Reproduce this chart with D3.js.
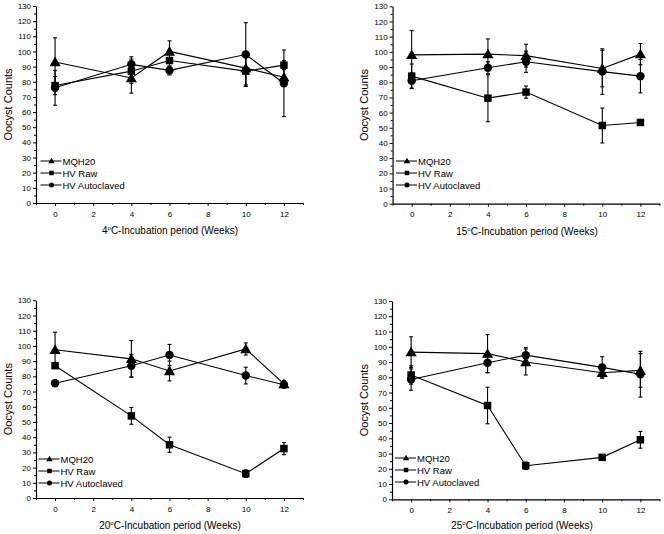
<!DOCTYPE html>
<html>
<head>
<meta charset="utf-8">
<script src="https://cdn.jsdelivr.net/npm/d3@7"></script>
<style>
  html, body { margin: 0; padding: 0; background: #fff; }
  svg { display: block; font-family: "Liberation Sans", Arial, sans-serif; }
</style>
</head>
<body>
<svg id="chart" width="664" height="534"></svg>
<script>
// ---- data ----
const weeks = [0, 4, 6, 10, 12];
const seriesNames = ["MQH20", "HV Raw", "HV Autoclaved"];
const temperatures = ["4", "15", "20", "25"];
const yTicks = [0, 10, 20, 30, 40, 50, 60, 70, 80, 90, 100, 110, 120, 130];
const xTicks = [0, 2, 4, 6, 8, 10, 12];

// 4 °C
const mqh20_4 = [93, 82.5, 100, 89, 83];
const mqh20_4_err = [16, 10, 7, 11, 6];
const raw_4 = [77.5, 87, 94, 87, 91];
const raw_4_err = [6, 8, 4, 10, 3];
const auto_4 = [76, 91.5, 87.5, 98, 79];
const auto_4_err = [11.5, 5, 3, 21, 22];

// 15 °C
const mqh20_15 = [98, 98.5, 97.5, 89, 98.5];
const mqh20_15_err = [16, 10, 7.5, 12, 7];
const raw_15 = [84, 69.5, 73.5, 51.5, 53.5];
const raw_15_err = [8, 15.5, 4, 11.5, 1];
const auto_15 = [81, 89.5, 93.5, 87, 84];
const auto_15_err = [5, 4, 7, 15, 11];

// 20 °C
const mqh20_20 = [97.5, 91.5, 83.5, 98, 75];
const mqh20_20_err = [11.5, 12, 6.5, 4, 2];
const raw_20 = [87, 54, 35, 16, 32.5];
const raw_20_err = [1, 5.5, 5, 2.5, 4];
const auto_20 = [75.5, 87, 94, 80.5, 74.5];
const auto_20_err = [1.5, 7.5, 7, 5.5, 1.5];

// 25 °C
const mqh20_25 = [96.5, 95.5, 90, 83, 84.5];
const mqh20_25_err = [10, 12.5, 8.5, 3.5, 11];
const raw_25 = [81.5, 61.5, 22, 27.5, 39];
const raw_25_err = [6, 12, 2.5, 1, 5.5];
const auto_25 = [78.5, 89.5, 94.5, 86.5, 82];
const auto_25_err = [7, 6.5, 5, 7, 15];

const panelData = [
  [[mqh20_4, mqh20_4_err], [raw_4, raw_4_err], [auto_4, auto_4_err]],
  [[mqh20_15, mqh20_15_err], [raw_15, raw_15_err], [auto_15, auto_15_err]],
  [[mqh20_20, mqh20_20_err], [raw_20, raw_20_err], [auto_20, auto_20_err]],
  [[mqh20_25, mqh20_25_err], [raw_25, raw_25_err], [auto_25, auto_25_err]]
];

// ---- layout ----
const layout = [
  { x0: 36, x1: 303, y0: 203, y1: 6, ylabX: 11.5, xlabX: 170, xlabY: 234, legX: 40.5, legY: 161 },
  { x0: 392.6, x1: 659.5, y0: 203.7, y1: 6.3, ylabX: 368, xlabX: 527, xlabY: 234.5, legX: 396, legY: 161 },
  { x0: 36, x1: 303, y0: 498, y1: 300.3, ylabX: 11.5, xlabX: 170, xlabY: 528.5, legX: 38.5, legY: 459 },
  { x0: 392, x1: 659.5, y0: 499.3, y1: 301, ylabX: 368, xlabX: 522, xlabY: 529, legX: 395, legY: 458 }
];

const symbols = [d3.symbolTriangle, d3.symbolSquare, d3.symbolCircle];
const symSize = [54, 56, 56];
const legSymSize = [18, 20, 20];

const svg = d3.select("#chart");

panelData.forEach((series, pi) => {
  const L = layout[pi];
  const x = d3.scaleLinear().domain([-1, 13]).range([L.x0, L.x1]);
  const y = d3.scaleLinear().domain([0, 130]).range([L.y0, L.y1]);
  const g = svg.append("g");

  // minor ticks
  const minorY = d3.range(5, 130, 10);
  g.append("g").attr("transform", `translate(${L.x0},0)`)
    .call(d3.axisLeft(y).tickValues(minorY).tickSize(2).tickSizeOuter(0).tickFormat(""))
    .call(a => a.select(".domain").remove());
  const minorX = d3.range(-1, 14, 2);
  g.append("g").attr("transform", `translate(0,${L.y0})`)
    .call(d3.axisBottom(x).tickValues(minorX).tickSize(2).tickSizeOuter(0).tickFormat(""))
    .call(a => a.select(".domain").remove());

  // main axes
  const yAxis = g.append("g").attr("transform", `translate(${L.x0},0)`)
    .call(d3.axisLeft(y).tickValues(yTicks).tickSize(3).tickSizeOuter(0).tickPadding(2));
  const xAxis = g.append("g").attr("transform", `translate(0,${L.y0})`)
    .call(d3.axisBottom(x).tickValues(xTicks).tickSize(3).tickSizeOuter(0).tickPadding(5));
  [yAxis, xAxis].forEach(a => {
    a.selectAll("text").attr("font-size", 8).attr("font-family", "Liberation Sans, Arial, sans-serif").attr("fill", "#000");
    a.selectAll("line").attr("stroke", "#000");
    a.select(".domain").attr("stroke", "#000").attr("stroke-width", 1.2);
  });
  g.selectAll(".tick line").attr("stroke", "#000");

  // axis labels
  g.append("text")
    .attr("transform", `translate(${L.ylabX},${(L.y0 + L.y1) / 2}) rotate(-90)`)
    .attr("text-anchor", "middle").attr("font-size", 11).text("Oocyst Counts");
  const xl = g.append("text").attr("x", L.xlabX).attr("y", L.xlabY)
    .attr("text-anchor", "middle").attr("font-size", 10);
  xl.append("tspan").text(temperatures[pi]);
  xl.append("tspan").attr("font-size", 6).attr("dy", -4).text("o");
  xl.append("tspan").attr("dy", 4).text("C-Incubation period (Weeks)");

  // series
  const line = d3.line().x(d => x(d[0])).y(d => y(d[1]));
  series.forEach(([vals, errs], si) => {
    const pts = weeks.map((w, i) => [w, vals[i], errs[i]]);
    const sg = g.append("g");
    // error bars
    pts.forEach(p => {
      const cx = x(p[0]);
      const yt = y(p[1] + p[2]), yb = y(p[1] - p[2]);
      sg.append("line").attr("x1", cx).attr("x2", cx).attr("y1", yt).attr("y2", yb)
        .attr("stroke", "#000").attr("stroke-width", 1.1);
      [yt, yb].forEach(yy => sg.append("line")
        .attr("x1", cx - 2).attr("x2", cx + 2).attr("y1", yy).attr("y2", yy)
        .attr("stroke", "#000").attr("stroke-width", 1.1));
    });
    sg.append("path").attr("d", line(pts)).attr("fill", "none")
      .attr("stroke", "#000").attr("stroke-width", 1.1);
    sg.selectAll("path.m").data(pts).enter().append("path").attr("class", "m")
      .attr("transform", d => `translate(${x(d[0])},${y(d[1]) + (si === 0 ? 1 : 0)})`)
      .attr("d", d3.symbol().type(symbols[si]).size(symSize[si]))
      .attr("fill", "#000");
  });

  // legend
  seriesNames.forEach((name, si) => {
    const ly = L.legY + si * 12;
    g.append("line").attr("x1", L.legX).attr("x2", L.legX + 21).attr("y1", ly).attr("y2", ly)
      .attr("stroke", "#000").attr("stroke-width", 1);
    g.append("path").attr("transform", `translate(${L.legX + 11},${ly + (si === 0 ? 0.5 : 0)})`)
      .attr("d", d3.symbol().type(symbols[si]).size(legSymSize[si])).attr("fill", "#000");
    g.append("text").attr("x", L.legX + 22).attr("y", ly + 3.5)
      .attr("font-size", 9.5).text(name);
  });
});
</script>
</body>
</html>
